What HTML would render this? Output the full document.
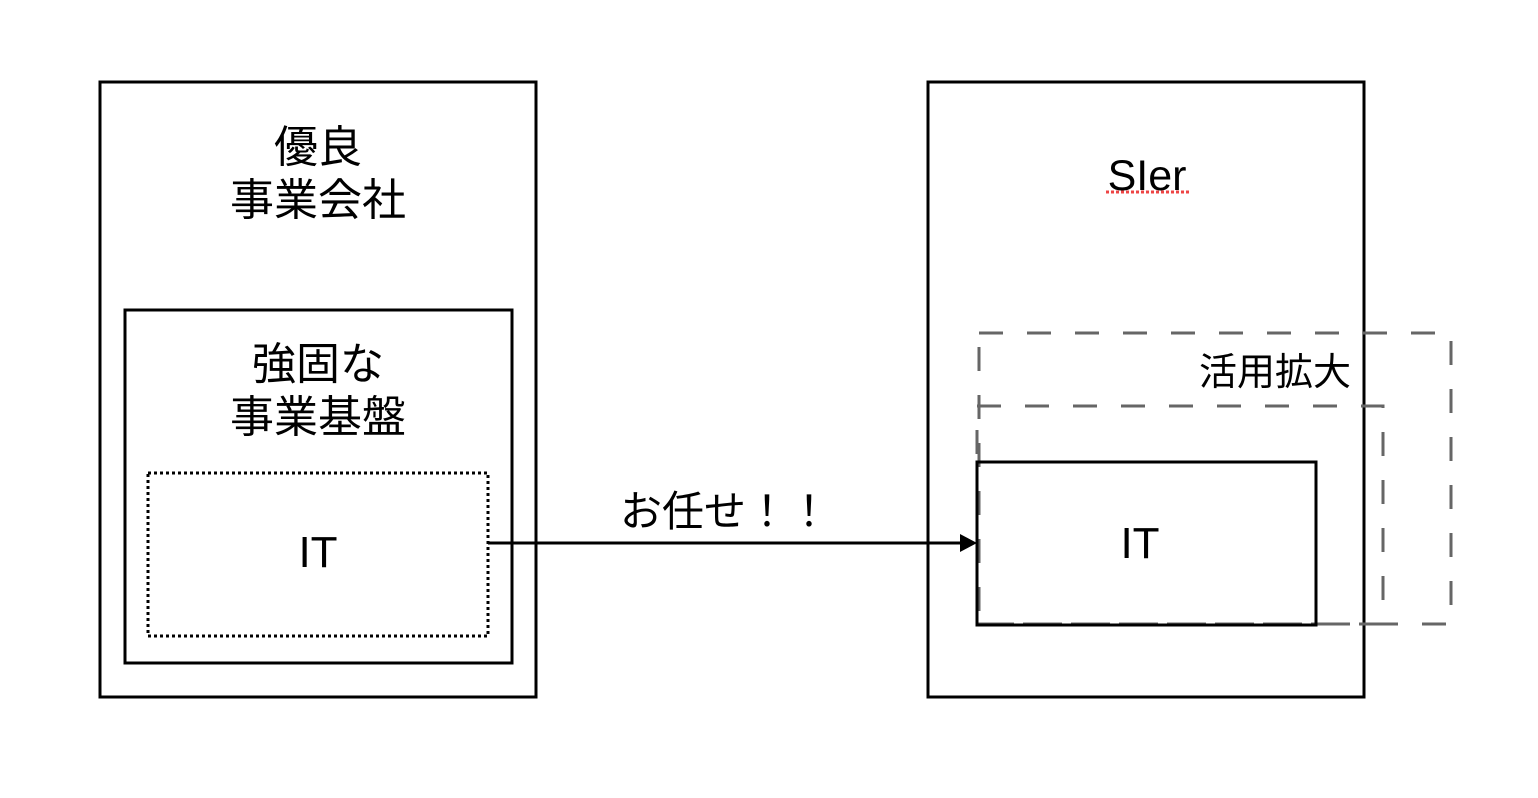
<!DOCTYPE html>
<html><head><meta charset="utf-8"><style>
html,body{margin:0;padding:0;background:#fff;}
svg{display:block;}
text{font-family:"Liberation Sans","Noto Sans CJK JP",sans-serif;fill:#000;}
</style></head><body>
<svg width="1538" height="798" viewBox="0 0 1538 798" xmlns="http://www.w3.org/2000/svg">
<rect x="0" y="0" width="1538" height="798" fill="#fff"/>
<rect x="100" y="82" width="436" height="615" fill="none" stroke="#000" stroke-width="3"/>
<rect x="125" y="310" width="387" height="353" fill="none" stroke="#000" stroke-width="3"/>
<rect x="148" y="473" width="340" height="163" fill="none" stroke="#000" stroke-width="3" stroke-dasharray="3 3"/>
<text x="318" y="162" font-size="44" text-anchor="middle">優良</text>
<text x="318" y="215" font-size="44" text-anchor="middle">事業会社</text>
<text x="318" y="379" font-size="44" text-anchor="middle">強固な</text>
<text x="318" y="432" font-size="44" text-anchor="middle">事業基盤</text>
<text x="318" y="567" font-size="44" text-anchor="middle">IT</text>
<rect x="928" y="82" width="436" height="615" fill="none" stroke="#000" stroke-width="3"/>
<text x="1147" y="190" font-size="43" text-anchor="middle">SIer</text>
<line x1="1106" y1="192" x2="1190" y2="192" stroke="#e44" stroke-width="3" stroke-dasharray="3 2"/>
<rect x="979" y="333" width="472" height="291" fill="none" stroke="#666" stroke-width="3" stroke-dasharray="24 24"/>
<rect x="977" y="406" width="406" height="218" fill="none" stroke="#666" stroke-width="3" stroke-dasharray="24 24"/>
<text x="1351" y="385" font-size="38" text-anchor="end">活用拡大</text>
<rect x="977" y="462" width="339" height="163" fill="none" stroke="#000" stroke-width="3"/>
<text x="1140" y="558" font-size="44" text-anchor="middle">IT</text>
<line x1="488" y1="543" x2="962" y2="543" stroke="#000" stroke-width="3"/>
<polygon points="960,534 977,543 960,552" fill="#000"/>
<text x="725" y="526" font-size="42" text-anchor="middle">お任せ！！</text>
</svg>
</body></html>
